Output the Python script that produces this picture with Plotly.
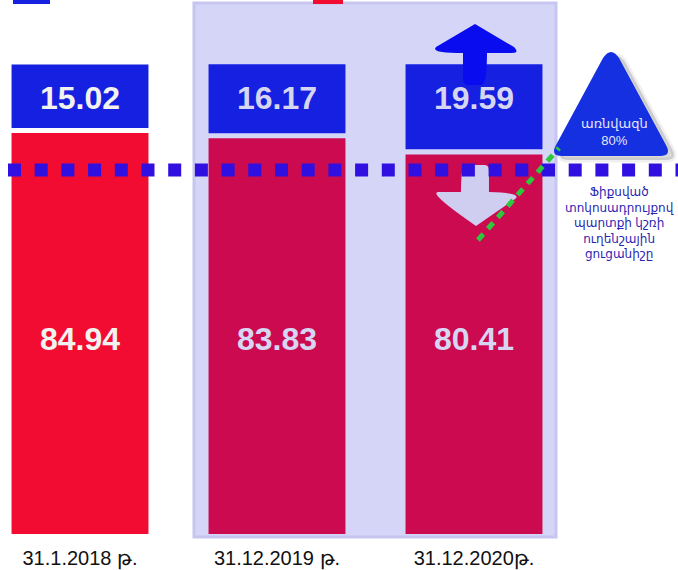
import plotly.graph_objects as go

# data
dates = ["31.1.2018 թ.", "31.12.2019 թ.", "31.12.2020թ."]
red_share = [84.94, 83.83, 80.41]
blue_share = [15.02, 16.17, 19.59]
threshold_line = 77.1  # where the dotted benchmark line sits

red_colors = ["#F20C32", "#CC0A50", "#CC0A50"]
label_colors = ["#F2F2EE", "#D6D6F2", "#D6D6F2"]
BLUE = "#1520E0"

W, H, B = 678, 570, 36
PH = H - B          # plot area height in px
GAP = 1.1           # white gap between the two parts of a bar


def pp(x, y):
    # pixel -> paper coords, for the decorative shapes
    return f"{x / W:.4f},{(PH - y) / PH:.4f}"


def path(*pts):
    out = []
    for cmd, xy in pts:
        out.append(cmd + " " + " ".join(pp(*p) for p in xy) if xy else cmd)
    return " ".join(out)


x = [0, 1, 2]
fig = go.Figure()

fig.add_trace(go.Bar(x=x, y=red_share, marker=dict(color=red_colors, line_width=0),
                     width=0.695, hoverinfo="skip"))
fig.add_trace(go.Bar(x=x, y=[b - 1.6 for b in blue_share],
                     base=[r + GAP for r in red_share],
                     marker=dict(color=BLUE, line_width=0), width=0.695, hoverinfo="skip"))

lbl_font = dict(family="Liberation Sans, Arial", size=32, weight="bold", color=label_colors)
fig.add_trace(go.Scatter(x=x, y=[40.6] * 3, mode="text", text=[f"{v:.2f}" for v in red_share],
                         textfont=lbl_font, hoverinfo="skip"))
fig.add_trace(go.Scatter(x=x, y=[91.8] * 3, mode="text", text=[f"{v:.2f}" for v in blue_share],
                         textfont=lbl_font, hoverinfo="skip"))

shapes = []
# top grey smudge of the background
shapes.append(dict(type="path", xref="paper", yref="paper", layer="below", line_width=0,
                   fillcolor="rgba(200,200,200,0.35)",
                   path=path(("M", [(0, 0)]), ("L", [(678, 0), (678, 46), (600, 40), (520, 30),
                                                      (430, 22), (330, 12), (200, 8), (90, 14),
                                                      (0, 12)]), ("Z", None))))
# lavender highlight behind the last two bars
shapes.append(dict(type="rect", xref="paper", yref="paper", layer="below",
                   x0=194 / W, x1=556 / W, y0=-3 / PH, y1=(PH - 3) / PH,
                   fillcolor="#D5D5F7", line=dict(color="#C6C6F0", width=3)))
# legend stubs at the very top
shapes.append(dict(type="rect", xref="paper", yref="paper", x0=13 / W, x1=50 / W,
                   y0=(PH - 4) / PH, y1=1, fillcolor=BLUE, line_width=0))
shapes.append(dict(type="rect", xref="paper", yref="paper", x0=313 / W, x1=343 / W,
                   y0=(PH - 4) / PH, y1=1, fillcolor="#F20C32", line_width=0))
# up arrow
shapes.append(dict(type="path", xref="paper", yref="paper", fillcolor="#0A0CF0", line_width=0,
                   path=path(("M", [(475, 24)]), ("L", [(514, 47)]), ("Q", [(520, 53), (512, 53)]),
                             ("L", [(487, 53), (487, 79)]), ("Q", [(487, 85), (481, 85)]),
                             ("L", [(469, 85)]), ("Q", [(463, 85), (463, 79)]),
                             ("L", [(463, 53), (438, 53)]), ("Q", [(430, 53), (436, 47)]), ("Z", None))))
# down arrow
shapes.append(dict(type="path", xref="paper", yref="paper", fillcolor="#CFCDF0", line_width=0,
                   path=path(("M", [(466, 165)]), ("L", [(484, 165)]), ("Q", [(489, 165), (489, 170)]),
                             ("L", [(489, 192), (513, 192)]), ("Q", [(523, 193), (515, 199)]),
                             ("L", [(476, 226), (436, 199)]), ("Q", [(428, 193), (438, 192)]),
                             ("L", [(461, 192), (461, 170)]), ("Q", [(461, 165), (466, 165)]), ("Z", None))))
# triangle shadow + triangle
tri = [("M", [(603, 58)]), ("Q", [(611, 46), (619, 58)]), ("L", [(666, 145)]),
       ("Q", [(672, 156), (660, 156)]), ("L", [(562, 156)]), ("Q", [(550, 156), (556, 145)]), ("Z", None)]
shadow = [(c, [(px + 6, py + 4) for px, py in p] if p else None) for c, p in tri]
shapes.append(dict(type="path", xref="paper", yref="paper", fillcolor="rgba(0,0,0,0.15)",
                   line=dict(color="rgba(0,0,0,0.06)", width=5), path=path(*shadow)))
shapes.append(dict(type="path", xref="paper", yref="paper", fillcolor="#1530E0", line_width=0,
                   path=path(*tri)))
# dotted benchmark line
shapes.append(dict(type="line", xref="paper", yref="y", x0=8 / W, x1=1,
                   y0=threshold_line, y1=threshold_line,
                   line=dict(color="#3010E0", width=13, dash="13px,13.7px")))
# green dashed pointer
shapes.append(dict(type="line", xref="paper", yref="paper",
                   x0=478 / W, y0=(PH - 240) / PH, x1=559 / W, y1=(PH - 148) / PH,
                   line=dict(color="#2DC83C", width=5, dash="8px,7px")))

armenian = "Arial, Liberation Sans, DejaVu Sans"
annotations = [
    dict(xref="paper", yref="paper", x=614 / W, y=(PH - 132) / PH, showarrow=False,
         xanchor="center", yanchor="middle",
         text="առնվազն<br>80%", font=dict(family=armenian, size=13, color="#E6E6FA")),
    dict(xref="paper", yref="paper", x=619 / W, y=(PH - 223) / PH, showarrow=False,
         xanchor="center", yanchor="middle",
         text="Ֆիքսված<br>տոկոսադրույքով<br>պարտքի կշռի<br>ուղենշային<br>ցուցանիշը",
         font=dict(family=armenian, size=12, color="#2C1FB4")),
]

fig.update_layout(
    width=W, height=H, margin=dict(l=0, r=0, t=0, b=B),
    paper_bgcolor="white", plot_bgcolor="rgba(0,0,0,0)",
    barmode="overlay", showlegend=False,
    shapes=shapes, annotations=annotations,
    xaxis=dict(range=[-80 / 197, (W - 80) / 197], tickvals=x, ticktext=dates,
               showgrid=False, zeroline=False, showline=False, ticks="",
               ticklabelstandoff=10,
               tickfont=dict(family="Arial, Liberation Sans", size=20, color="#111111")),
    yaxis=dict(range=[0, PH / 4.72], visible=False, showgrid=False, zeroline=False),
)

# the page body has a default 8px margin; drop it so the figure sits at the corner
fig.write_html("out.html", config={"displayModeBar": False},
               post_script="document.body.style.margin = '0';")
